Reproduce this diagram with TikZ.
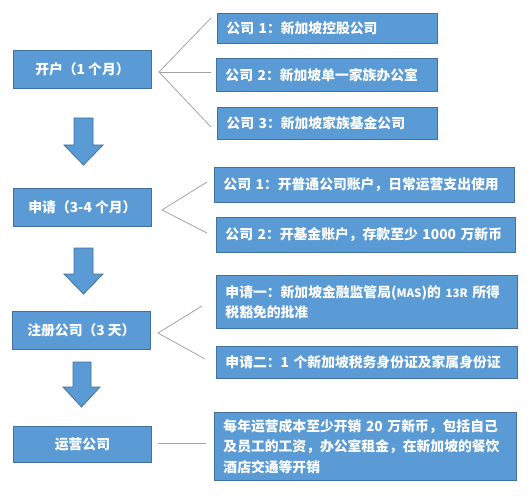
\documentclass[tikz,border=0pt]{standalone}
\usepackage{fontspec}
\setmainfont{Noto Sans CJK SC}
\usetikzlibrary{positioning}
\definecolor{boxblue}{HTML}{5B9BD5}
\definecolor{boxedge}{HTML}{41719C}
\definecolor{fanline}{HTML}{A3A3A3}
\tikzset{
  bx/.style={draw=boxedge, fill=boxblue, line width=0.9pt, text=white, anchor=north west,
    inner sep=0pt, font=\fontsize{13.8}{20.5}\selectfont\bfseries},
  lbox/.style={bx, align=center},
  rbox/.style={bx, align=left, inner xsep=9pt},
  fan/.style={draw=fanline, line width=0.8pt},
  blockarrow/.style={draw=boxedge, fill=boxblue, line width=0.8pt, line join=miter}
}
\begin{document}
\begin{tikzpicture}[x=1pt,y=-1pt]
\useasboundingbox (0,0) rectangle (530,497);
% left boxes
\node[lbox, minimum width=138pt, minimum height=38pt] (L1) at (13,50) {开户（1 个月）};
\node[lbox, minimum width=138pt, minimum height=38pt] (L2) at (13,188) {申请（3-4 个月）};
\node[lbox, minimum width=138pt, minimum height=38pt] (L3) at (12,311) {注册公司（3 天）};
\node[lbox, minimum width=138pt, minimum height=36pt] (L4) at (13,426) {运营公司};
% right boxes
\node[rbox, text width=202pt, minimum height=30pt] (R1) at (217,13) {公司 1：新加坡控股公司};
\node[rbox, text width=203pt, minimum height=33pt] (R2) at (216,58) {公司 2：新加坡单一家族办公室};
\node[rbox, text width=202pt, minimum height=32pt] (R3) at (217,107) {公司 3：新加坡家族基金公司};
\node[rbox, text width=282pt, minimum height=35pt] (R4) at (214,167) {公司 1：开普通公司账户，日常运营支出使用};
\node[rbox, text width=281pt, minimum height=35pt] (R5) at (216,217) {公司 2：开基金账户，存款至少 1000 万新币};
\node[rbox, text width=283pt, minimum height=53pt] (R6) at (216,275) {\mbox{申请一：新加坡金融监管局({\fontsize{11.5}{14}\selectfont MAS})的 {\fontsize{11.5}{14}\selectfont 13R} 所得}\\税豁免的批准};
\node[rbox, text width=283pt, minimum height=32pt] (R7) at (216,346) {申请二：1 个新加坡税务身份证及家属身份证};
\node[rbox, text width=284pt, minimum height=68pt] (R8) at (214,412) {每年运营成本至少开销 20 万新币，包括自己\\及员工的工资，办公室租金，在新加坡的餐饮\\酒店交通等开销};
% fan connectors
\coordinate (f1) at (159,72);
\coordinate (e11) at (211,18);
\coordinate (e12) at (211,72);
\coordinate (e13) at (211,127);
\draw[fan] (e11) -- (f1) -- (e13);
\draw[fan] (f1) -- (e12);
\coordinate (f2) at (162,210);
\coordinate (e21) at (207,182);
\coordinate (e22) at (207,233);
\draw[fan] (e21) -- (f2) -- (e22);
\coordinate (f3) at (158,333);
\coordinate (e31) at (202,306);
\coordinate (e32) at (205,359);
\draw[fan] (e31) -- (f3) -- (e32);
\coordinate (f4) at (158,443);
\coordinate (e41) at (206,443);
\draw[fan] (f4) -- (e41);
% block arrows
\draw[blockarrow] (74,118) -- (93,118) -- (93,145) -- (103,145) -- (83.5,165) -- (64,145) -- (74,145) -- cycle;
\draw[blockarrow] (74,248) -- (93,248) -- (93,274) -- (103,274) -- (83.5,294) -- (64,274) -- (74,274) -- cycle;
\draw[blockarrow] (73,362) -- (91,362) -- (91,387) -- (100,387) -- (81.5,407) -- (63,387) -- (73,387) -- cycle;
\end{tikzpicture}
\end{document}
